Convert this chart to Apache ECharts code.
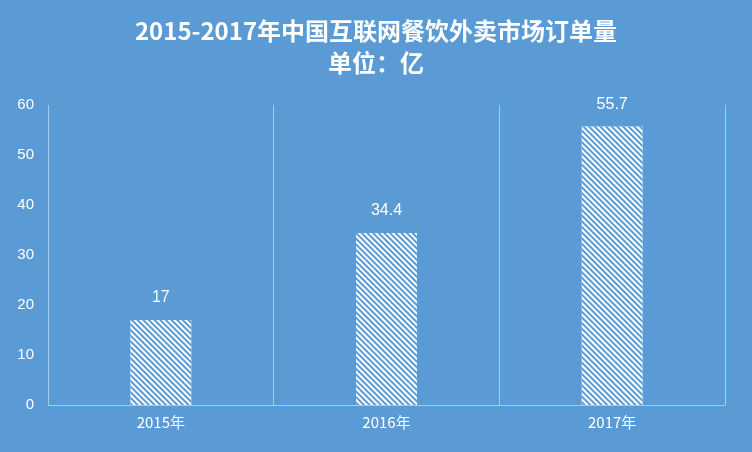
<!DOCTYPE html>
<html>
<head>
<meta charset="utf-8">
<script src="https://cdn.jsdelivr.net/npm/echarts@6/dist/echarts.min.js"></script>
<style>html,body{margin:0;padding:0;background:#5b9bd5;}</style>
</head>
<body>
<div id="chart" style="width:752px;height:452px;"></div>
<script>
var years = ['2015年', '2016年', '2017年'];
var orders = [17, 34.4, 55.7];
var yTicks = [0, 60, 10];

var chart = echarts.init(document.getElementById('chart'));
chart.setOption({
    backgroundColor: '#5b9bd5',
    title: {
        text: '2015-2017年中国互联网餐饮外卖市场订单量\n单位：亿',
        left: 'center',
        top: 10,
        textStyle: {
            color: '#fff',
            fontSize: 24,
            fontWeight: 'bold',
            lineHeight: 32,
            fontFamily: 'Noto Sans CJK SC'
        }
    },
    grid: {left: 48, right: 27, top: 105, bottom: 47},
    xAxis: {
        type: 'category',
        data: years,
        axisLine: {lineStyle: {color: '#a9c8ea', width: 1}},
        axisTick: {show: false},
        splitLine: {show: true, lineStyle: {color: '#a9c8ea'}},
        axisLabel: {color: '#fff', fontSize: 15, margin: 10, fontFamily: 'Noto Sans CJK SC'}
    },
    yAxis: {
        type: 'value',
        min: yTicks[0],
        max: yTicks[1],
        interval: yTicks[2],
        axisLine: {show: false},
        axisTick: {show: false},
        splitLine: {show: false},
        axisLabel: {color: '#fff', fontSize: 15, margin: 14}
    },
    series: [{
        type: 'bar',
        data: orders,
        barWidth: '27%',
        itemStyle: {
            color: '#ffffff',
            decal: {
                symbol: 'rect',
                color: '#5b9bd5',
                dashArrayX: [1, 0],
                dashArrayY: [2, 2],
                rotation: Math.PI / 4
            }
        },
        label: {
            show: true,
            position: 'top',
            distance: 14,
            color: '#fff',
            fontSize: 16
        }
    }]
});
</script>
</body>
</html>
